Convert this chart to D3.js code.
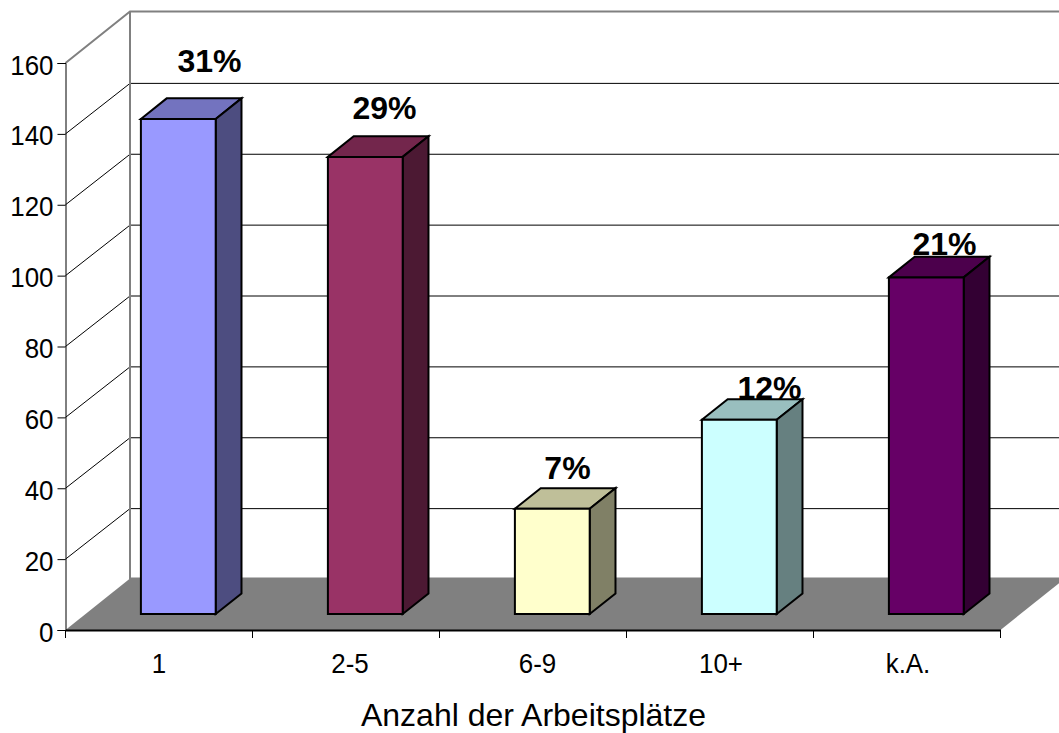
<!DOCTYPE html>
<html><head><meta charset="utf-8">
<script src="https://cdnjs.cloudflare.com/ajax/libs/d3/7.8.5/d3.min.js"></script>
<style>html,body{margin:0;padding:0;background:#fff;overflow:hidden}svg{display:block}text{font-family:"Liberation Sans",Arial,sans-serif;fill:#000}</style>
</head><body><svg id="c" width="1059" height="733"></svg>
<script>
const categories = ["1","2-5","6-9","10+","k.A."];
const values = [139.7,129,29.7,54.8,95];
const shares = ["31%","29%","7%","12%","21%"];
const frontColors = ["#9999ff","#993366","#ffffcc","#ccffff","#660066"];
const topColors = ["#7373bf","#73264c","#bfbf99","#99bfbf","#4c004c"];
const sideColors = ["#4d4d80","#4c1933","#808066","#668080","#330033"];
const yTicks = [0,20,40,60,80,100,120,140,160];
const xTitle = "Anzahl der Arbeitsplätze";
// hand placement of the free-floating percentage and category labels
const shareDx = [-32,-44,-48,-33,-45];
const shareDy = [-26,-17,-9,0,-2];
const catDx = [0,4,4.5,1,1];

const svg=d3.select("#c");
const y=d3.scaleLinear().domain([0,160]).range([630,63]);
const x=d3.scaleBand().domain(categories).range([65.5,1000.5]);
const depth={dx:64.5,dy:-51.5};
const gridDy=-50.5;
const barFront=0.31;
const barDx=25.8, barDy=-20.6;
const barW=x.bandwidth()*0.4;
const line=d3.line();
const [xa,xb]=x.range();

// floor
svg.append("path").attr("fill","#808080")
 .attr("d",line([[xa,y(0)],[xa+depth.dx,y(0)+depth.dy],[xb+depth.dx,y(0)+depth.dy],[xb,y(0)]])+"Z");

// gridlines
yTicks.slice(1,-1).forEach(t=>{
 svg.append("path").attr("fill","none").attr("stroke","#000").attr("stroke-width",1)
  .attr("d",line([[xa,y(t)],[xa+depth.dx,y(t)+gridDy],[xb+depth.dx,y(t)+gridDy]]));
});
// wall edges
svg.append("path").attr("fill","none").attr("stroke","#808080").attr("stroke-width",2)
 .attr("d",line([[xa,y(160)],[xa+depth.dx,y(160)+depth.dy],[xb+depth.dx,y(160)+depth.dy]]));
svg.append("path").attr("fill","none").attr("stroke","#808080").attr("stroke-width",2)
 .attr("d",line([[xa+depth.dx,y(160)+depth.dy],[xa+depth.dx,y(0)+depth.dy],[xb+depth.dx,y(0)+depth.dy]]));

// axes
const ay=d3.axisLeft(y).tickValues(yTicks).tickSize(8).tickFormat(d3.format("d"));
const gy=svg.append("g").attr("transform",`translate(${xa},0)`).call(ay);
gy.selectAll("text").attr("font-size",27).attr("x",0).attr("dy",0)
 .attr("transform","translate(-12,11) scale(.96,1)");
const ax=d3.axisBottom(x).tickSize(0);
const gx=svg.append("g").attr("transform",`translate(0,${y(0)})`).call(ax);
gx.selectAll("text").attr("font-size",27).attr("y",0).attr("dy",0)
 .attr("transform",(d,i)=>`translate(${catDx[i]},43) scale(.96,1)`);
gx.select(".domain").attr("stroke-width",2);
d3.range(categories.length+1).forEach(i=>{
 const px=xa+i*x.bandwidth();
 svg.append("line").attr("x1",px).attr("x2",px).attr("y1",y(0)).attr("y2",y(0)+8).attr("stroke","#000");
});
svg.selectAll(".domain").attr("stroke","#000");

// bars
const g=svg.append("g");
categories.forEach((c,i)=>{
 const x0=x(c)+x.bandwidth()*0.3+depth.dx*barFront-0.7;
 const x1=x0+barW;
 const yb=y(0)+depth.dy*barFront;
 const yt=y(values[i])+depth.dy*barFront;
 const add=(pts,f)=>g.append("path").attr("d",line(pts)+"Z").attr("fill",f)
   .attr("stroke","#000").attr("stroke-width",2).attr("stroke-linejoin","miter");
 add([[x0,yt],[x0+barDx,yt+barDy],[x1+barDx,yt+barDy],[x1,yt]],topColors[i]);
 add([[x1,yt],[x1+barDx,yt+barDy],[x1+barDx,yb+barDy],[x1,yb]],sideColors[i]);
 add([[x0,yt],[x1,yt],[x1,yb],[x0,yb]],frontColors[i]);
 svg.append("text").attr("x",x1+barDx+shareDx[i]).attr("y",yt+barDy+shareDy[i])
  .attr("text-anchor","middle").attr("font-size",32).attr("font-weight","bold").text(shares[i]);
});

svg.append("text").attr("x",533.5).attr("y",726).attr("text-anchor","middle").attr("font-size",32).text(xTitle);
</script></body></html>
